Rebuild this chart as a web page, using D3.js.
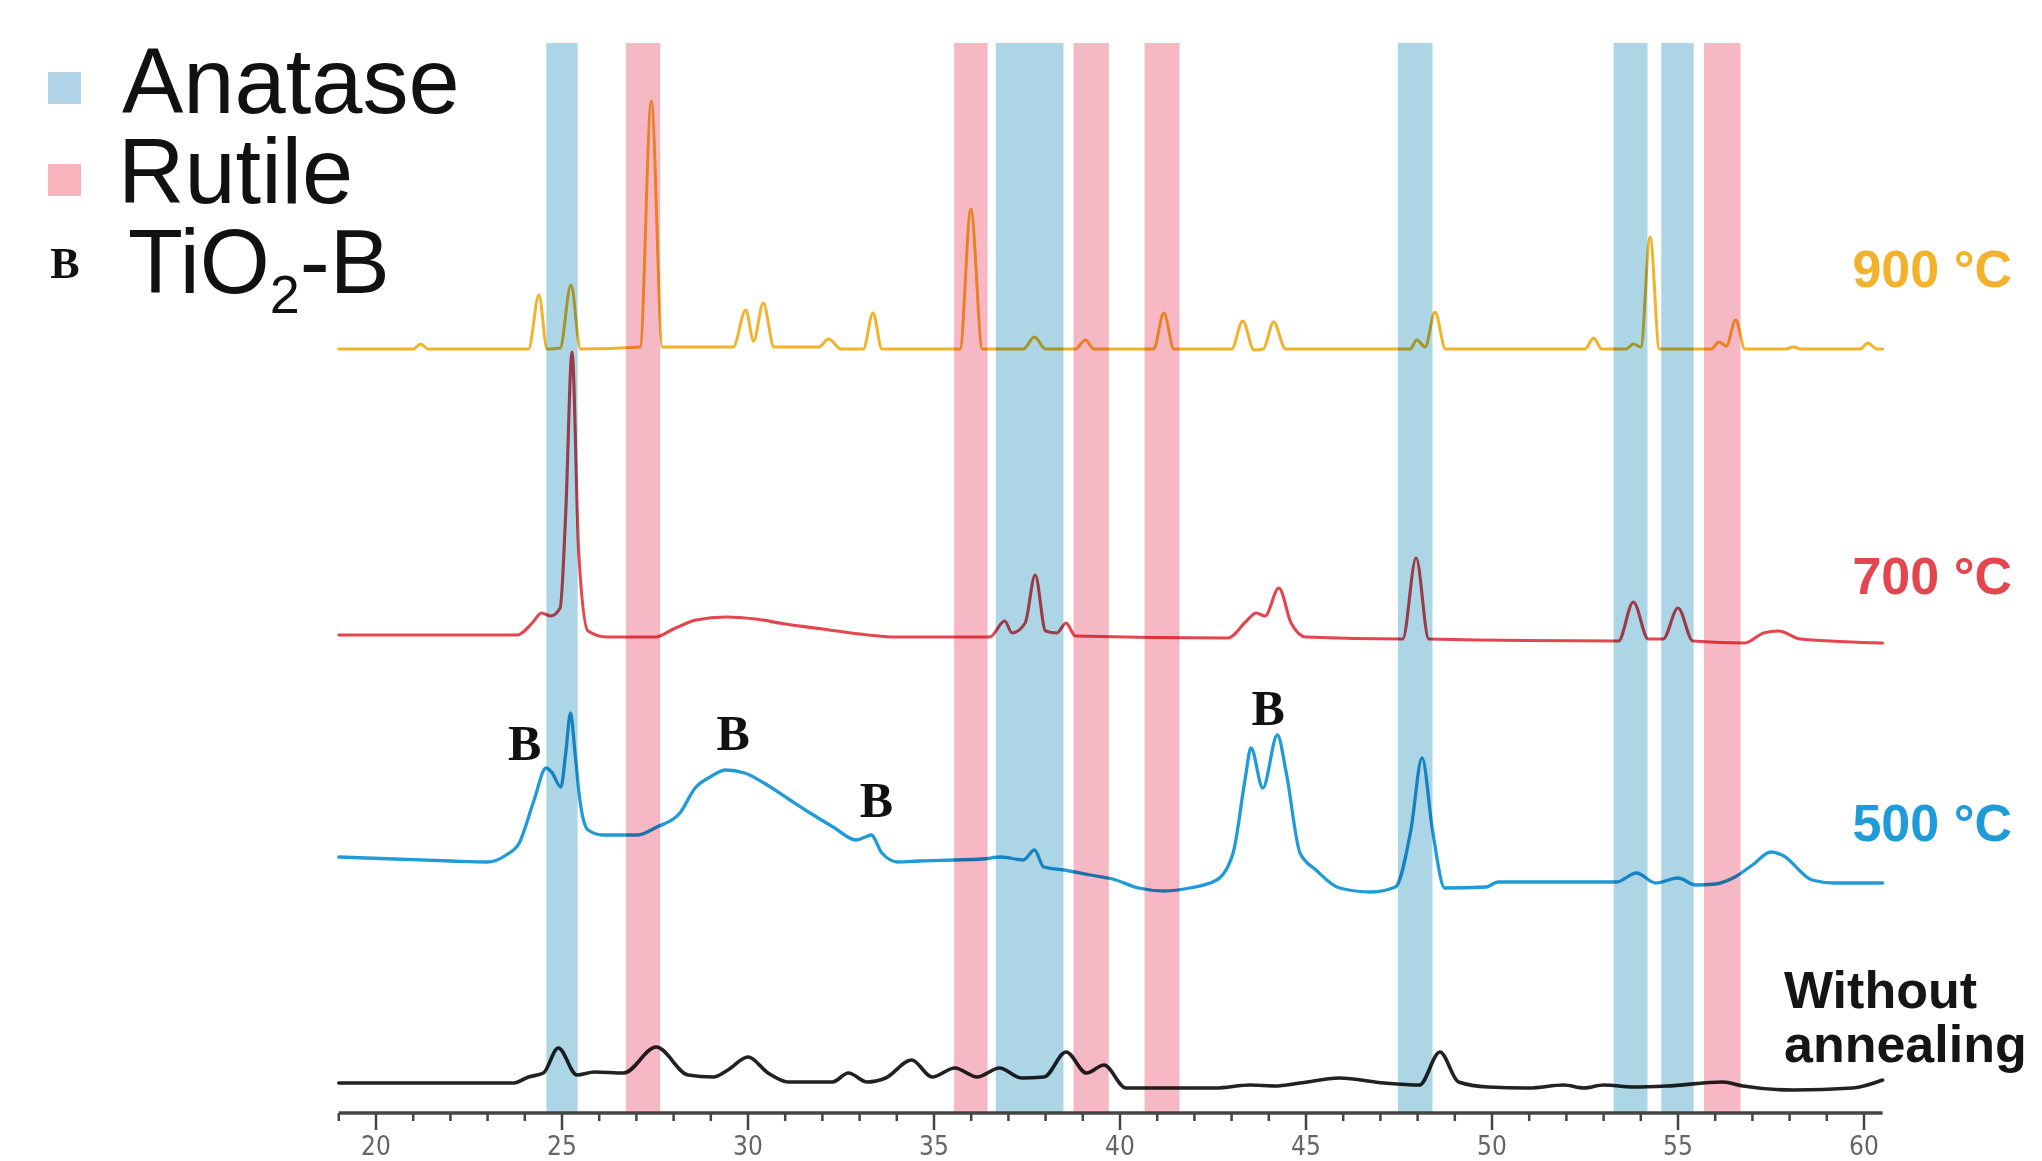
<!DOCTYPE html>
<html lang="en">
<head>
  <meta charset="UTF-8" />
  <title>XRD patterns - TiO2 annealing</title>
  <script src="https://d3js.org/d3.v7.min.js"></script>
  <style>
    body { margin: 0; background: #fff; }
    svg { display: block; }
    .band { mix-blend-mode: multiply; }
    .trace { fill: none; stroke-linejoin: round; stroke-linecap: round; }
    .temp { font-family: "Liberation Sans", Arial, sans-serif; font-weight: bold; font-size: 52px; }
    .legend-text { font-family: "Liberation Sans", Arial, sans-serif; font-size: 92px; fill: #111; }
    .bmark { font-family: "Liberation Serif", "Times New Roman", serif; font-weight: bold; fill: #111; }
    .x-axis text { font-family: "DejaVu Sans Condensed", "Liberation Sans Narrow", sans-serif; font-size: 26px; fill: #666; }
  </style>
</head>
<body>
<svg width="2042" height="1161"></svg>

<script>
  // 2theta (deg) ranges of the reference peaks
  const anataseBands = [[24.58, 25.42], [36.66, 38.48], [47.47, 48.4], [53.27, 54.18], [54.55, 55.42]];
  const rutileBands = [[26.72, 27.64], [35.54, 36.44], [38.75, 39.7], [40.66, 41.6], [55.7, 56.68]];

  // patterns: [2theta, intensity (a.u., offset stacked)]
  const data900 = [
    [19.0, 764], [21.0, 764], [21.2, 769], [21.4, 764], [24.1, 764], [24.38, 818], [24.6, 764], [24.95, 765],
    [25.24, 828], [25.5, 764], [27.1, 766], [27.40, 1012], [27.7, 766], [29.6, 766], [29.94, 803], [30.15, 772],
    [30.41, 810], [30.7, 766], [31.9, 766], [32.17, 774], [32.5, 764], [33.1, 764], [33.36, 800], [33.6, 764],
    [35.7, 764], [35.99, 904], [36.3, 764], [37.4, 764], [37.7, 776], [38.0, 764], [38.8, 764], [39.07, 773],
    [39.3, 764], [40.9, 764], [41.18, 800], [41.45, 764], [43.0, 764], [43.3, 792], [43.6, 763], [43.85, 764],
    [44.13, 791], [44.45, 764], [47.8, 764], [47.98, 773], [48.2, 766], [48.47, 801], [48.75, 764], [52.5, 764],
    [52.73, 775], [52.95, 764], [53.6, 764], [53.8, 769], [54.0, 766], [54.25, 876], [54.5, 764], [55.9, 764],
    [56.1, 771], [56.3, 767], [56.55, 793], [56.8, 764], [57.9, 764], [58.1, 766], [58.3, 764], [59.9, 764],
    [60.1, 770], [60.35, 764], [60.5, 764]
  ];
  const data700 = [
    [19.0, 478], [23.8, 478], [24.2, 490], [24.45, 500], [24.7, 497], [24.95, 505], [25.1, 600], [25.27, 761],
    [25.45, 560], [25.7, 482], [26.2, 476], [27.5, 476], [28.0, 484], [28.6, 493], [29.4, 496], [30.2, 494],
    [31.0, 489], [32.0, 484], [33.0, 479], [34.0, 476], [36.5, 476], [36.9, 492], [37.1, 480], [37.45, 490],
    [37.72, 538], [38.0, 482], [38.3, 480], [38.55, 490], [38.8, 477], [42.9, 475], [43.4, 492], [43.66, 500],
    [43.9, 497], [44.27, 525], [44.6, 490], [45.0, 476], [47.6, 474], [47.96, 555], [48.3, 474], [53.4, 472],
    [53.8, 511], [54.2, 474], [54.6, 474], [55.0, 505], [55.4, 472], [56.8, 470], [57.3, 480], [57.7, 482],
    [58.3, 474], [60.5, 470]
  ];
  const data500 = [
    [19.0, 256], [20.5, 254], [22.0, 252], [23.0, 251], [23.5, 258], [23.85, 270], [24.25, 313], [24.57, 345],
    [24.72, 341], [24.97, 326], [25.1, 360], [25.23, 400], [25.35, 360], [25.48, 313], [25.7, 283], [26.1, 278],
    [27.03, 278], [27.55, 286], [28.17, 300], [28.58, 325], [28.98, 336], [29.4, 343], [29.91, 340], [30.43, 330],
    [31.05, 315], [31.67, 300], [32.29, 286], [32.9, 273], [33.15, 276], [33.31, 278], [33.6, 260], [34.03, 251],
    [34.6, 252], [35.5, 253], [36.3, 254], [36.8, 256], [37.4, 253], [37.7, 263], [37.95, 246], [38.5, 243],
    [39.2, 238], [39.8, 234], [40.5, 225], [41.2, 222], [41.87, 225], [42.6, 233], [43.04, 260], [43.36, 333],
    [43.52, 365], [43.84, 325], [44.23, 378], [44.47, 340], [44.84, 260], [45.27, 243], [45.9, 225], [46.75, 221],
    [47.4, 226], [47.82, 283], [48.12, 355], [48.4, 283], [48.73, 225], [49.84, 226], [50.16, 231], [53.35, 231],
    [53.88, 240], [54.4, 230], [55.0, 235], [55.48, 228], [56.0, 229], [56.53, 236], [57.0, 248], [57.5, 261],
    [57.8, 258], [58.6, 233], [59.2, 230], [60.5, 230]
  ];
  const dataRaw = [
    [19.0, 30], [23.7, 30], [24.1, 36], [24.5, 40], [24.9, 65], [25.4, 38], [25.87, 41], [26.66, 40], [27.53, 66],
    [28.39, 38], [29.06, 36], [29.46, 43], [30.0, 56], [30.54, 40], [31.08, 31], [32.27, 31], [32.7, 40], [33.2, 31],
    [33.7, 35], [34.4, 53], [34.95, 36], [35.56, 45], [36.16, 36], [36.76, 45], [37.35, 35], [37.96, 36], [38.55, 61],
    [39.1, 40], [39.57, 48], [40.16, 25], [42.57, 25], [43.5, 28], [44.17, 27], [44.84, 30], [45.9, 35], [47.1, 30],
    [48.05, 28], [48.6, 61], [49.1, 31], [49.9, 26], [51.0, 25], [51.93, 28], [52.47, 25], [53.0, 28], [53.8, 26],
    [54.7, 27], [56.2, 31], [56.75, 27], [58.1, 23], [59.7, 25], [60.5, 33]
  ];

  // TiO2-B markers on the 500 °C pattern: [2theta, intensity]
  const bMarks = [[24.0, 353], [29.6, 363], [33.45, 296], [43.98, 388]];

  const xTicks = [20, 25, 30, 35, 40, 45, 50, 55, 60];

  const svg = d3.select("svg");

  const x = d3.scaleLinear().domain([20, 60]).range([376, 1864]);
  const y = d3.scaleLinear().domain([0, 1070]).range([1113, 43]);

  const line = d3.line()
    .curve(d3.curveMonotoneX)
    .x(d => x(d[0]))
    .y(d => y(d[1]));

  const series = [
    { data: dataRaw, color: "#222222", width: 3.6 },
    { data: data500, color: "#1f9bd7", width: 3.3 },
    { data: data700, color: "#e4464f", width: 3.1 },
    { data: data900, color: "#f2b22c", width: 3.0 }
  ];

  series.forEach(s => {
    svg.append("path")
      .datum(s.data)
      .attr("class", "trace")
      .attr("stroke", s.color)
      .attr("stroke-width", s.width)
      .attr("d", line);
  });

  // phase bands, drawn over the patterns
  const bandG = svg.append("g");
  [[anataseBands, "#acd6e6"], [rutileBands, "#f6b8c5"]].forEach(([bands, color]) => {
    bandG.selectAll(null)
      .data(bands)
      .enter().append("rect")
      .attr("class", "band")
      .attr("x", d => x(d[0]))
      .attr("width", d => x(d[1]) - x(d[0]))
      .attr("y", y(1070))
      .attr("height", y(0) - y(1070))
      .attr("fill", color);
  });

  // axis
  const axis = svg.append("g")
    .attr("class", "x-axis")
    .attr("transform", `translate(0,${y(0)})`);

  axis.append("line")
    .attr("x1", x(19)).attr("x2", x(60.5))
    .attr("stroke", "#444").attr("stroke-width", 3.5);

  axis.selectAll(".minor")
    .data(d3.range(19, 61))
    .enter().append("line")
    .attr("x1", d => x(d)).attr("x2", d => x(d))
    .attr("y1", 0).attr("y2", d => d % 5 === 0 ? 17 : 8)
    .attr("stroke", "#444").attr("stroke-width", 2.5);

  axis.selectAll(".lbl")
    .data(xTicks)
    .enter().append("text")
    .attr("x", d => x(d))
    .attr("y", 42)
    .attr("text-anchor", "middle")
    .text(d => d);

  // sample labels
  const labels = [
    { text: "900 °C", yPix: 287, color: "#f2b22c" },
    { text: "700 °C", yPix: 594, color: "#e4464f" },
    { text: "500 °C", yPix: 841, color: "#1f9bd7" }
  ];
  labels.forEach(l => {
    svg.append("text")
      .attr("class", "temp")
      .attr("x", 2012)
      .attr("y", l.yPix)
      .attr("text-anchor", "end")
      .attr("fill", l.color)
      .text(l.text);
  });

  const wa = svg.append("text")
    .attr("class", "temp")
    .attr("fill", "#151515")
    .style("font-size", "52px");
  wa.append("tspan").attr("x", 1784).attr("y", 1008).text("Without");
  wa.append("tspan").attr("x", 1784).attr("y", 1062).text("annealing");

  // B markers
  svg.selectAll(".bm")
    .data(bMarks)
    .enter().append("text")
    .attr("class", "bmark")
    .attr("x", d => x(d[0]))
    .attr("y", d => y(d[1]))
    .attr("text-anchor", "middle")
    .style("font-size", "50px")
    .text("B");

  // legend
  const legend = svg.append("g");
  legend.append("rect").attr("x", 48).attr("y", 72).attr("width", 33).attr("height", 32).attr("fill", "#b3d5e8");
  legend.append("rect").attr("x", 48).attr("y", 164).attr("width", 33).attr("height", 32).attr("fill", "#f7b4bd");
  legend.append("text").attr("class", "bmark").attr("x", 65).attr("y", 278)
    .attr("text-anchor", "middle").style("font-size", "44px").text("B");

  legend.append("text").attr("class", "legend-text").attr("x", 122).attr("y", 113).text("Anatase");
  legend.append("text").attr("class", "legend-text").attr("x", 118).attr("y", 203).text("Rutile");
  const tio = legend.append("text").attr("class", "legend-text").attr("x", 128).attr("y", 293)
    .style("font-size", "90px");
  tio.append("tspan").text("TiO");
  tio.append("tspan").attr("dy", 20).style("font-size", "54px").text("2");
  tio.append("tspan").attr("dy", -20).text("-B");
</script>

</body>
</html>
